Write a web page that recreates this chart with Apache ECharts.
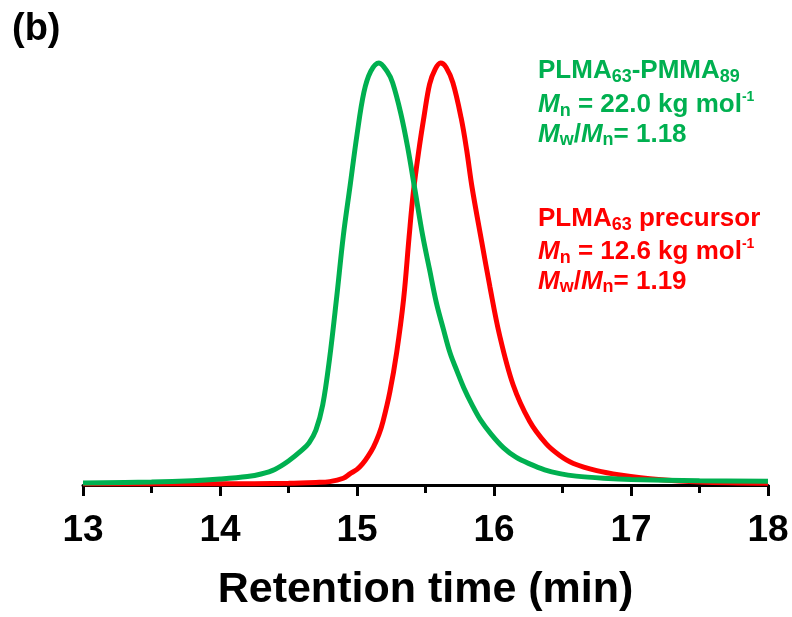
<!DOCTYPE html>
<html>
<head>
<meta charset="utf-8">
<script src="https://cdn.jsdelivr.net/npm/echarts@6/dist/echarts.min.js"></script>
<style>
html,body{margin:0;padding:0;background:#fff;}
#chart{width:792px;height:617px;}
</style>
</head>
<body>
<div id="chart"></div>
<script>
// Retention time (min) and normalized detector response
var greenTime = [13.0,13.5,13.8,14.0,14.2,14.3,14.4,14.5,14.6,14.65,14.7,14.75,14.8,14.85,14.9,14.95,15.0,15.05,15.1,15.16,15.22,15.26,15.32,15.37,15.42,15.48,15.53,15.58,15.63,15.68,15.73,15.78,15.84,15.9,15.98,16.07,16.16,16.26,16.37,16.48,16.6,16.8,17.0,17.5,18.0];
var greenSignal = [0.005,0.007,0.010,0.014,0.020,0.026,0.037,0.057,0.083,0.100,0.13,0.19,0.30,0.44,0.59,0.71,0.83,0.93,0.98,1.0,0.98,0.953,0.88,0.80,0.705,0.59,0.51,0.431,0.37,0.312,0.27,0.23,0.19,0.155,0.12,0.088,0.066,0.05,0.036,0.027,0.021,0.016,0.013,0.010,0.009];

var redTime = [13.0,13.5,14.0,14.5,14.7,14.8,14.9,14.95,15.0,15.04,15.08,15.12,15.16,15.19,15.24,15.29,15.34,15.38,15.41,15.45,15.49,15.53,15.57,15.61,15.65,15.70,15.76,15.80,15.84,15.91,15.97,16.04,16.14,16.26,16.38,16.48,16.58,16.75,16.92,17.2,17.5,18.0];
var redSignal = [0.003,0.003,0.003,0.004,0.006,0.008,0.016,0.027,0.037,0.05,0.068,0.09,0.12,0.151,0.221,0.315,0.44,0.587,0.69,0.79,0.875,0.95,0.985,1.0,0.99,0.953,0.87,0.795,0.705,0.577,0.47,0.356,0.237,0.151,0.098,0.07,0.051,0.034,0.024,0.013,0.007,0.004];

var xTicks = [13,14,15,16,17,18];
var axisTitle = 'Retention time (min)';
var panelLabel = '(b)';
var greenLines = ['{b|PLMA}{s|63}{b|-PMMA}{s|89}', '{i|M}{s|n}{b| = 22.0 kg mol}{p|-1}', '{i|M}{s|w}{b|/}{i|M}{s|n}{b|= 1.18}'];
var redLines = ['{b|PLMA}{s|63}{b| precursor}', '{i|M}{s|n}{b| = 12.6 kg mol}{p|-1}', '{i|M}{s|w}{b|/}{i|M}{s|n}{b|= 1.19}'];

var GREEN = '#00B050', RED = '#FF0000';
var FONT = '"Liberation Sans", Arial, sans-serif';

function pairs(xs, ys){ return xs.map(function(x,i){ return [x, ys[i]]; }); }
function rich(color){
  return {
    b:{fontSize:26,fontWeight:'bold',fontFamily:FONT,fill:color,lineHeight:30},
    i:{fontSize:26,fontWeight:'bold',fontStyle:'italic',fontFamily:FONT,fill:color,lineHeight:30},
    s:{fontSize:18,fontWeight:'bold',fontFamily:FONT,fill:color,lineHeight:17,verticalAlign:'bottom'},
    p:{fontSize:14,fontWeight:'bold',fontFamily:FONT,fill:color,lineHeight:24,verticalAlign:'top'}
  };
}
function textBlock(lines, color, ys){
  return lines.map(function(t,k){
    return {type:'text', left:538, top:ys[k]-15, z:10,
      style:{text:t, rich:rich(color), fill:color, font:'bold 26px '+FONT}};
  });
}

var chart = echarts.init(document.getElementById('chart'), null, {renderer:'canvas'});
chart.setOption({
  animation:false,
  backgroundColor:'#fff',
  grid:{left:83, right:24, top:63, bottom:125.5, containLabel:false},
  xAxis:{
    type:'value', min:13, max:18, interval:1,
    axisLine:{show:true, lineStyle:{color:'#000', width:3}},
    axisTick:{show:true, length:11, lineStyle:{color:'#000', width:3}},
    minorTick:{show:true, splitNumber:2, length:8, lineStyle:{color:'#000', width:3}},
    splitLine:{show:false}, minorSplitLine:{show:false},
    axisLabel:{margin:27, fontSize:37, fontWeight:'bold', color:'#000', fontFamily:FONT,
      formatter:function(v){ return xTicks.indexOf(v) >= 0 ? String(v) : ''; }},
    name:axisTitle, nameLocation:'middle', nameGap:84,
    nameTextStyle:{fontSize:43, fontWeight:'bold', color:'#000', fontFamily:FONT}
  },
  yAxis:{type:'value', min:0, max:1, show:false, splitLine:{show:false}},
  series:[
    {type:'line', data:pairs(redTime, redSignal), smooth:0.35, showSymbol:false, clip:false,
      lineStyle:{color:RED, width:5}, itemStyle:{color:RED}, z:2},
    {type:'line', data:pairs(greenTime, greenSignal), smooth:0.35, showSymbol:false, clip:false,
      lineStyle:{color:GREEN, width:5}, itemStyle:{color:GREEN}, z:3}
  ],
  graphic: [{type:'text', left:12, top:11, style:{text:panelLabel, font:'bold 38px '+FONT, fill:'#000'}}]
    .concat(textBlock(greenLines, GREEN, [73, 105, 136.5]))
    .concat(textBlock(redLines, RED, [221, 252, 283.5]))
});
</script>
</body>
</html>
